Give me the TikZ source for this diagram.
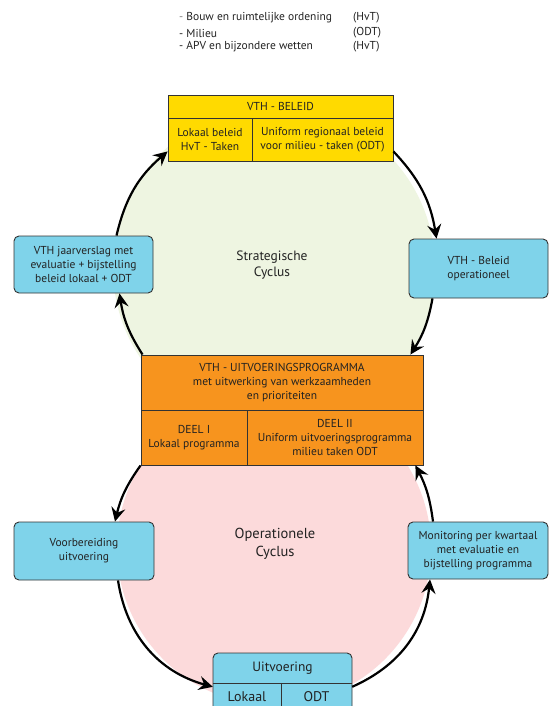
\documentclass[tikz,border=0pt]{standalone}
\usepackage{fontspec}
\setmainfont{PT Sans}
\usetikzlibrary{arrows.meta,calc}
\definecolor{yel}{HTML}{FFDA00}
\definecolor{org}{HTML}{F7941E}
\definecolor{bluefill}{HTML}{7FD3EA}
\definecolor{greenbg}{HTML}{EEF5E1}
\definecolor{pinkbg}{HTML}{FCDADB}
\definecolor{boxline}{HTML}{333333}
\definecolor{txt}{HTML}{222222}
\begin{document}
\begin{tikzpicture}[x=1pt,y=-1pt,
  cell/.style={draw=boxline, line width=0.9pt, align=center, inner sep=0pt, text=txt, font=\fontsize{11.5}{14}\selectfont},
  bluebox/.style={cell, fill=bluefill, rounded corners=5pt},
  plain/.style={inner sep=0pt, text=txt, font=\fontsize{11.5}{14}\selectfont, align=center},
  toptext/.style={inner sep=0pt, text=txt, font=\fontsize{11.5}{13}\selectfont, anchor=west},
  arr/.style={line width=2.2pt, -{Stealth[length=14pt,width=14pt,inset=5pt]}}
]
\clip (0,0) rectangle (555,706);
\fill[white] (0,0) rectangle (555,706);

% circles
\node[circle, fill=greenbg, minimum size=322pt, inner sep=0pt] (gc) at (274,268) {};
\node[circle, fill=pinkbg, minimum size=314pt, inner sep=0pt] (pc) at (274,548) {};

% top list
\node[toptext] (t1) at (179,18) {\textcolor{gray}{-} Bouw en ruimtelijke ordening};
\node[toptext] (t2) at (179,33) {- Milieu};
\node[toptext] (t3) at (179,47) {- APV en bijzondere wetten};
\node[toptext] (t4) at (353,18) {(HvT)};
\node[toptext] (t5) at (353,33) {(ODT)};
\node[toptext] (t6) at (353,47) {(HvT)};

% cycle labels
\node[plain, font=\fontsize{13.5}{16}\selectfont] (sc) at (272,265) {Strategische\\Cyclus};
\node[plain, font=\fontsize{14.5}{18}\selectfont] (oc) at (275,544) {Operationele\\Cyclus};

% yellow box
\node[cell, fill=yel, minimum width=225pt, minimum height=23pt] (bh) at (280.5,106.5) {VTH - BELEID};
\node[cell, fill=yel, minimum width=84pt, minimum height=43pt] (bl) at (210,139.5) {Lokaal beleid\\HvT - Taken};
\node[cell, fill=yel, minimum width=141pt, minimum height=43pt] (br) at (322.5,139.5) {Uniform regionaal beleid\\voor milieu - taken (ODT)};

% orange box
\node[cell, fill=org, minimum width=282pt, minimum height=55pt] (oh) at (282,382.5) {VTH - UITVOERINGSPROGRAMMA\\met uitwerking van werkzaamheden\\en prioriteiten};
\node[cell, fill=org, minimum width=106pt, minimum height=55pt] (ol) at (194,437.5) {DEEL I\\Lokaal programma};
\node[cell, fill=org, minimum width=176pt, minimum height=55pt] (or) at (335,437.5) {DEEL II\\Uniform uitvoeringsprogramma\\milieu taken ODT};

% blue boxes
\node[bluebox, minimum width=139pt, minimum height=57pt] (jaar) at (83.5,264.5) {VTH jaarverslag met\\evaluatie + bijstelling\\beleid lokaal + ODT};
\node[bluebox, minimum width=139pt, minimum height=59pt] (op) at (478.5,268.5) {VTH - Beleid\\operationeel};
\node[bluebox, minimum width=140pt, minimum height=58pt] (voor) at (84,551) {Voorbereiding\\uitvoering};
\node[bluebox, minimum width=140pt, minimum height=57pt] (mon) at (478,550.5) {Monitoring per kwartaal\\met evaluatie en\\bijstelling programma};

% uitvoering box
\fill[bluefill] [rounded corners=5pt] (213,720) -- (213,653) -- (352,653) -- (352,720) -- cycle;
\draw[boxline, line width=0.9pt, rounded corners=5pt] (213,720) -- (213,653) -- (352,653) -- (352,720);
\node[plain, minimum width=139pt, minimum height=30pt, font=\fontsize{13.5}{16}\selectfont] (uh) at (282.5,668) {Uitvoering};
\node[plain, minimum width=68pt, minimum height=28pt, font=\fontsize{14}{16}\selectfont] (ul) at (247,697) {Lokaal};
\node[plain, minimum width=71pt, minimum height=28pt, font=\fontsize{14}{16}\selectfont] (ur) at (316.5,697) {ODT};
\draw[boxline, line width=0.9pt] (uh.south west) -- (uh.south east);
\draw[boxline, line width=0.9pt] (ul.north east) -- (ul.south east);

% arrows
\draw[arr] ($(jaar.north)+(33,0)$) to[bend left=18] ($(bl.south west)+(0,-10)$);
\draw[arr] ($(br.south east)+(0,-10)$) to[bend left=17] ($(op.north)+(-42,0)$);
\draw[arr] ($(op.south)+(-46,0)$) to[bend left=11] ($(oh.north east)+(-13,0)$);
\draw[arr] ($(oh.north west)+(2,0)$) to[bend left=12] ($(jaar.south)+(36,0)$);
\draw[arr] ($(ol.south west)+(0,0)$) to[bend right=11] ($(voor.north)+(31,0)$);
\draw[arr] ($(voor.south)+(34,0)$) to[bend right=33] ($(ul.north west)+(0,4)$);
\draw[arr] ($(ur.north east)+(0,4)$) to[bend right=30] ($(mon.south)+(-48,0)$);
\draw[arr] ($(mon.north)+(-45,0)$) to[bend right=10] ($(or.south east)+(-8,0)$);
\end{tikzpicture}
\end{document}
